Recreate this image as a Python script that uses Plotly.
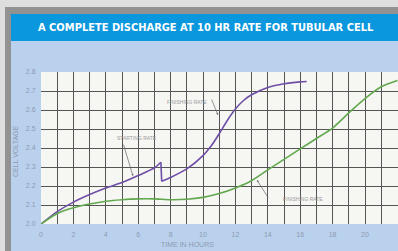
import plotly.graph_objects as go

# ---- data ----
purple_start_t = [0, 1, 2, 3, 4, 5, 6, 7, 7.4]
purple_start_v = [2.0, 2.065, 2.115, 2.155, 2.19, 2.218, 2.255, 2.295, 2.325]
purple_finish_t = [7.45, 8, 9, 10, 10.5, 11, 11.5, 12, 12.5, 13, 14, 15, 16, 16.4]
purple_finish_v = [2.225, 2.245, 2.29, 2.36, 2.41, 2.475, 2.545, 2.605, 2.65, 2.68, 2.718, 2.738, 2.748, 2.75]
green_t = [0, 1, 2, 3, 4, 5, 6, 7, 8, 9, 10, 11, 12, 13, 14, 15, 16, 17, 18, 19, 20, 21, 22]
green_v = [2.0, 2.055, 2.085, 2.105, 2.12, 2.128, 2.132, 2.132, 2.128, 2.13, 2.14, 2.16, 2.19,
           2.228, 2.285, 2.34, 2.395, 2.45, 2.505, 2.585, 2.66, 2.722, 2.755]
x_ticks = [0, 2, 4, 6, 8, 10, 12, 14, 16, 18, 20, 22]
y_ticks = [2.0, 2.1, 2.2, 2.3, 2.4, 2.5, 2.6, 2.7, 2.8]
title_text = "A COMPLETE DISCHARGE AT 10 HR RATE FOR TUBULAR CELL"
x_title = "TIME IN HOURS"
y_title = "CELL VOLTAGE"

W, H = 398, 251
L, R, T, B = 41, 0, 72, 27
pw, ph = W - L - R, H - T - B


def px(x):
    return (x - L) / pw


def py(y):
    return (H - B - y) / ph


PURPLE = "#6e4fa6"
GREEN = "#62a84e"
GRID = "#555555"
TICKC = "#8e9bb2"
NOTE = "#9a9a9a"

fig = go.Figure()
fig.add_trace(go.Scatter(x=purple_start_t, y=purple_start_v, mode="lines",
                         line=dict(color=PURPLE, width=1.6, shape="spline", smoothing=0.6),
                         showlegend=False))
fig.add_trace(go.Scatter(x=[purple_start_t[-1], purple_finish_t[0]],
                         y=[purple_start_v[-1], purple_finish_v[0]], mode="lines",
                         line=dict(color=PURPLE, width=1.6), showlegend=False))
fig.add_trace(go.Scatter(x=purple_finish_t, y=purple_finish_v, mode="lines",
                         line=dict(color=PURPLE, width=1.6, shape="spline", smoothing=0.6),
                         showlegend=False))
fig.add_trace(go.Scatter(x=green_t, y=green_v, mode="lines",
                         line=dict(color=GREEN, width=1.6, shape="spline", smoothing=0.6),
                         showlegend=False))

shapes = [
    dict(type="rect", xref="paper", yref="paper", x0=px(0), x1=px(W), y0=py(0), y1=py(7),
         fillcolor="#dedede", line_width=0, layer="below"),
    dict(type="rect", xref="paper", yref="paper", x0=px(0), x1=px(5), y0=py(0), y1=py(H),
         fillcolor="#dedede", line_width=0, layer="below"),
    dict(type="rect", xref="paper", yref="paper", x0=px(5), x1=px(W), y0=py(7), y1=py(14),
         fillcolor="#929292", line_width=0, layer="below"),
    dict(type="rect", xref="paper", yref="paper", x0=px(5), x1=px(11), y0=py(7), y1=py(H),
         fillcolor="#929292", line_width=0, layer="below"),
    dict(type="rect", xref="paper", yref="paper", x0=px(11), x1=px(W), y0=py(14), y1=py(41),
         fillcolor="#0a97dd", line_width=0, layer="below"),
]

small = dict(family="Liberation Sans, Arial, sans-serif", size=5, color=NOTE)
annotations = [
    dict(xref="paper", yref="paper", x=px(206), y=py(27.5), text="<b>" + title_text + "</b>",
         showarrow=False, xanchor="center", yanchor="middle",
         font=dict(family="DejaVu Sans Condensed, Liberation Sans, sans-serif", size=11, color="white")),
    dict(xref="paper", yref="paper", x=px(187), y=py(244.5), text=x_title, showarrow=False,
         xanchor="center", yanchor="middle",
         font=dict(family="Liberation Sans, Arial, sans-serif", size=7, color=TICKC)),
    dict(xref="paper", yref="paper", x=px(15), y=py(151), text=y_title, showarrow=False,
         textangle=-90, xanchor="center", yanchor="middle",
         font=dict(family="Liberation Sans, Arial, sans-serif", size=7, color=TICKC)),
    dict(xref="paper", yref="paper", x=px(137), y=py(138), text="STARTING RATE", showarrow=False,
         xanchor="center", yanchor="middle", font=small),
    dict(xref="paper", yref="paper", x=px(187), y=py(101.5), text="FINISHING RATE", showarrow=False,
         xanchor="center", yanchor="middle", font=small),
    dict(xref="paper", yref="paper", x=px(303), y=py(199.3), text="FINISHING RATE", showarrow=False,
         xanchor="center", yanchor="middle", font=small),
    dict(xref="paper", yref="paper", x=px(133), y=py(176), text="", showarrow=True,
         ax=-10, ay=-33, arrowhead=2, arrowsize=0.6, arrowwidth=0.7, arrowcolor="#666666"),
    dict(xref="paper", yref="paper", x=px(218), y=py(115), text="", showarrow=True,
         ax=-7, ay=-17, arrowhead=2, arrowsize=0.6, arrowwidth=0.7, arrowcolor="#666666"),
    dict(xref="paper", yref="paper", x=px(257), y=py(180), text="", showarrow=True,
         ax=12, ay=19, arrowhead=2, arrowsize=0.6, arrowwidth=0.7, arrowcolor="#666666"),
]

axis_font = dict(family="Liberation Sans, Arial, sans-serif", size=7, color=TICKC)
fig.update_layout(
    width=W, height=H, autosize=False,
    margin=dict(l=L, r=R, t=T, b=B, pad=0),
    paper_bgcolor="#b9d1ed", plot_bgcolor="#f6f6f3",
    shapes=shapes, annotations=annotations, showlegend=False,
    xaxis=dict(range=[0, (W - L - R) / 16.2], tickvals=x_ticks, showgrid=True,
               gridcolor=GRID, gridwidth=1.3, zeroline=False, showline=False,
               tickfont=axis_font, ticks="outside", ticklen=4, tickcolor="rgba(0,0,0,0)",
               minor=dict(dtick=1, showgrid=True, gridcolor=GRID, gridwidth=1.3),
               fixedrange=True),
    yaxis=dict(range=[2.0, 2.8], tickvals=y_ticks, tickformat=".1f", showgrid=True,
               gridcolor=GRID, gridwidth=1.3, zeroline=False, showline=False,
               tickfont=axis_font, ticks="outside", ticklen=3, tickcolor="rgba(0,0,0,0)",
               fixedrange=True),
)

fig.write_html("out.html", config={"displayModeBar": False},
               post_script="document.body.style.margin='0';document.body.style.padding='0';")
